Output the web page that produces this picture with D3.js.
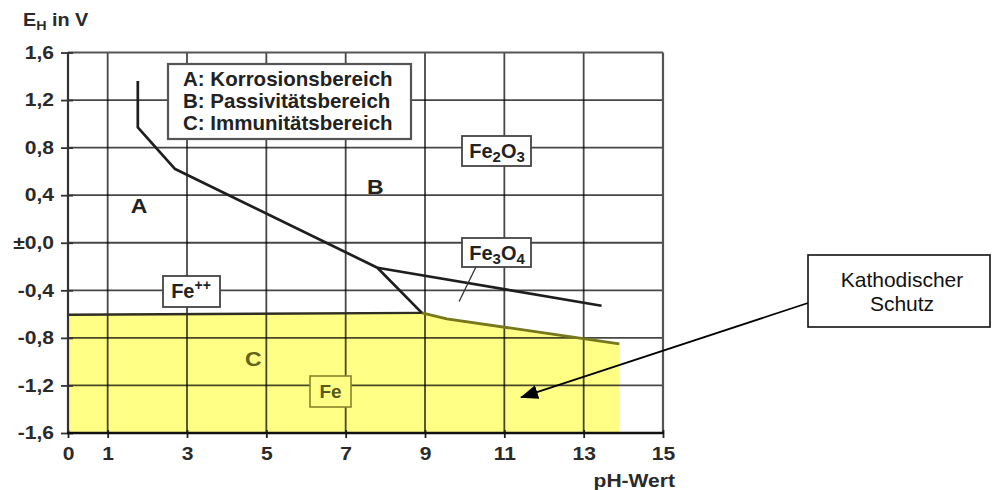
<!DOCTYPE html>
<html>
<head>
<meta charset="utf-8">
<script src="https://cdn.jsdelivr.net/npm/d3@7"></script>
<style>
  html, body { margin: 0; padding: 0; background: #fff; }
  svg { display: block; font-family: "Liberation Sans", Arial, sans-serif; }
</style>
</head>
<body>
<svg id="chart" width="992" height="490"></svg>
<script>
// ---------------- data ----------------
const phTicks = [0, 1, 3, 5, 7, 9, 11, 13, 15];
const phTickLabels = ["0", "1", "3", "5", "7", "9", "11", "13", "15"];
const phGrid = [1, 3, 5, 7, 9, 11, 13];
const ehTicks = [1.6, 1.2, 0.8, 0.4, 0, -0.4, -0.8, -1.2, -1.6];
const ehTickLabels = ["1,6", "1,2", "0,8", "0,4", "±0,0", "-0,4", "-0,8", "-1,2", "-1,6"];
const ehGrid = [1.2, 0.8, 0.4, 0, -0.4, -0.8, -1.2];

// boundary lines [pH, E_H]
const corrosionBoundary = [[1.76, 1.36], [1.76, 0.97], [2.7, 0.62], [7.8, -0.21], [8.92, -0.59]];
const fe3o4Boundary = [[7.8, -0.21], [13.45, -0.53]];
const immunityTopLeft = [[0, -0.606], [8.92, -0.59]];
const immunityTopRight = [[8.92, -0.59], [9.55, -0.64], [13.9, -0.85]];
const immunityArea = [[0, -0.606], [8.92, -0.59], [9.55, -0.64], [13.9, -0.85], [13.9, -1.6], [0, -1.6]];
const fe3o4Leader = [[10.29, -0.2], [9.86, -0.494]];
const arrowTip = [11.42, -1.30];

const legendLines = ["A: Korrosionsbereich", "B: Passivitätsbereich", "C: Immunitätsbereich"];
const regionLabels = [
  { text: "A", ph: 1.79, eh: 0.31 },
  { text: "B", ph: 7.75, eh: 0.47 }
];

// ---------------- setup ----------------
const svg = d3.select("#chart");
const x = d3.scaleLinear().domain([0, 15]).range([68, 663]);
const y = d3.scaleLinear().domain([-1.6, 1.6]).range([433, 52.5]);
const line = d3.line().x(d => x(d[0])).y(d => y(d[1]));

// yellow immunity area (drawn first, grid goes over it semi-transparent)
svg.append("path")
  .attr("d", line(immunityArea) + "Z")
  .attr("fill", "#ffff86");

// grid
const grid = svg.append("g");
grid.selectAll("line.v").data(phGrid).join("line")
  .attr("x1", d => x(d)).attr("x2", d => x(d))
  .attr("y1", y(1.6)).attr("y2", y(-1.6))
  .attr("stroke", "#000").attr("stroke-opacity", 0.72).attr("stroke-width", 1.8);
grid.selectAll("line.h").data(ehGrid).join("line")
  .attr("x1", x(0)).attr("x2", x(15))
  .attr("y1", d => y(d)).attr("y2", d => y(d))
  .attr("stroke", "#000").attr("stroke-opacity", 0.72).attr("stroke-width", 1.8);
// frame top & right
grid.append("line").attr("x1", x(0)).attr("x2", x(15)).attr("y1", y(1.6)).attr("y2", y(1.6))
  .attr("stroke", "#555").attr("stroke-width", 2.2);
grid.append("line").attr("x1", x(15)).attr("x2", x(15)).attr("y1", y(1.6)).attr("y2", y(-1.6))
  .attr("stroke", "#555").attr("stroke-width", 2.2);

// immunity top boundary
svg.append("path").attr("d", line(immunityTopLeft))
  .attr("fill", "none").attr("stroke", "#2e2e22").attr("stroke-width", 2.4);
svg.append("path").attr("d", line(immunityTopRight))
  .attr("fill", "none").attr("stroke", "#77771c").attr("stroke-width", 2.8);

// boundaries
svg.append("path").attr("d", line(corrosionBoundary))
  .attr("fill", "none").attr("stroke", "#1e1e1e").attr("stroke-width", 2.7)
  .attr("stroke-linejoin", "round");
svg.append("path").attr("d", line(fe3o4Boundary))
  .attr("fill", "none").attr("stroke", "#1e1e1e").attr("stroke-width", 2.7);
svg.append("path").attr("d", line(fe3o4Leader))
  .attr("fill", "none").attr("stroke", "#333").attr("stroke-width", 1.3);

// region labels
svg.selectAll("text.region").data(regionLabels).join("text")
  .attr("transform", d => `translate(${x(d.ph)},${y(d.eh) + 7}) scale(1.15,1)`)
  .attr("text-anchor", "middle")
  .attr("font-size", 20).attr("font-weight", "bold").attr("fill", "#222")
  .text(d => d.text);

// C label (olive, inside yellow)
svg.append("text")
  .attr("transform", `translate(${x(4.67)},${y(-0.98) + 7}) scale(1.15,1)`)
  .attr("text-anchor", "middle")
  .attr("font-size", 20).attr("font-weight", "bold").attr("fill", "#62621a")
  .text("C");

// Fe box (olive)
{
  const bx = 310, by = 376, bw = 41, bh = 31;
  svg.append("rect").attr("x", bx).attr("y", by).attr("width", bw).attr("height", bh)
    .attr("fill", "#ffff86").attr("stroke", "#85852c").attr("stroke-width", 1.6);
  svg.append("text").attr("x", bx + bw / 2).attr("y", by + 22)
    .attr("text-anchor", "middle").attr("font-size", 19).attr("font-weight", "bold")
    .attr("fill", "#58581a").text("Fe");
}

// labelled boxes (white)
function box(bx, by, bw, bh) {
  svg.append("rect").attr("x", bx).attr("y", by).attr("width", bw).attr("height", bh)
    .attr("fill", "#fff").attr("stroke", "#444").attr("stroke-width", 1.8);
}
function chem(cx, baseline, parts) {
  const t = svg.append("text").attr("x", cx).attr("y", baseline)
    .attr("text-anchor", "middle").attr("font-weight", "bold").attr("fill", "#222");
  parts.forEach(p => {
    const ts = t.append("tspan").text(p.t).attr("font-size", p.s);
    if (p.dy) ts.attr("dy", p.dy);
  });
}
box(462, 136, 69, 30);
chem(497, 158, [{ t: "Fe", s: 20 }, { t: "2", s: 15, dy: 4 }, { t: "O", s: 20, dy: -4 }, { t: "3", s: 15, dy: 4 }]);
box(462, 238, 69, 29);
chem(497, 260, [{ t: "Fe", s: 20 }, { t: "3", s: 15, dy: 4 }, { t: "O", s: 20, dy: -4 }, { t: "4", s: 15, dy: 4 }]);
box(163, 276, 57, 31);
chem(191, 298, [{ t: "Fe", s: 20 }, { t: "++", s: 14, dy: -8 }]);

// legend
{
  svg.append("rect").attr("x", 168).attr("y", 64).attr("width", 243).attr("height", 75)
    .attr("fill", "#fff").attr("stroke", "#555").attr("stroke-width", 2.2);
  svg.selectAll("text.leg").data(legendLines).join("text")
    .attr("x", 183).attr("y", (d, i) => 86 + i * 22)
    .attr("font-size", 20.5).attr("font-weight", "bold").attr("fill", "#222")
    .text(d => d);
}

// axes
const yAxis = d3.axisLeft(y).tickValues(ehTicks)
  .tickFormat((d, i) => ehTickLabels[i]).tickSizeInner(7).tickSizeOuter(0).tickPadding(5);
const gy = svg.append("g").attr("transform", `translate(${x(0)},0)`).call(yAxis);
gy.select(".domain").remove();
gy.selectAll(".tick line").attr("x1", 5).attr("stroke", "#333").attr("stroke-width", 1.8);
gy.selectAll(".tick text")
  .attr("font-size", 18).attr("font-weight", "bold").attr("fill", "#2a2a2a")
  .attr("font-family", "Liberation Sans, Arial, sans-serif")
  .attr("transform", "scale(1.17,1)");

const xAxis = d3.axisBottom(x).tickValues(phTicks)
  .tickFormat((d, i) => phTickLabels[i]).tickSizeInner(5).tickSizeOuter(0).tickPadding(9);
const gx = svg.append("g").attr("transform", `translate(0,${y(-1.6)})`).call(xAxis);
gx.select(".domain").remove();
gx.selectAll(".tick line").attr("y1", -3).attr("stroke", "#222").attr("stroke-width", 1.8);
gx.selectAll(".tick text")
  .attr("font-size", 18).attr("font-weight", "bold").attr("fill", "#2a2a2a")
  .attr("font-family", "Liberation Sans, Arial, sans-serif")
  .attr("transform", "scale(1.17,1)")
  .attr("x", 0);

// axis lines
svg.append("line").attr("x1", x(0)).attr("x2", x(0)).attr("y1", y(1.6)).attr("y2", y(-1.6))
  .attr("stroke", "#333").attr("stroke-width", 2.2);
svg.append("line").attr("x1", x(0) - 1).attr("x2", x(15) + 1).attr("y1", y(-1.6)).attr("y2", y(-1.6))
  .attr("stroke", "#111").attr("stroke-width", 2.6);

// axis titles
{
  const t = svg.append("text").attr("transform", "translate(23,26) scale(1.1,1)")
    .attr("font-weight", "bold").attr("fill", "#2a2a2a").attr("font-size", 18);
  t.append("tspan").text("E");
  t.append("tspan").text("H").attr("font-size", 13).attr("dy", 4);
  t.append("tspan").text(" in V").attr("dy", -4);
}
svg.append("text").attr("transform", "translate(675,487) scale(1.17,1)")
  .attr("text-anchor", "end").attr("font-size", 18).attr("font-weight", "bold")
  .attr("fill", "#2a2a2a").text("pH-Wert");

// Kathodischer Schutz callout
svg.append("defs").append("marker")
  .attr("id", "arrow").attr("markerUnits", "userSpaceOnUse")
  .attr("markerWidth", 18).attr("markerHeight", 16)
  .attr("viewBox", "0 -8 18 16").attr("refX", 17).attr("refY", 0)
  .attr("orient", "auto")
  .append("path").attr("d", "M0,-7L18,0L0,7Z").attr("fill", "#000");
svg.append("line")
  .attr("x1", 808).attr("y1", 303)
  .attr("x2", x(arrowTip[0])).attr("y2", y(arrowTip[1]))
  .attr("stroke", "#000").attr("stroke-width", 1.8)
  .attr("marker-end", "url(#arrow)");
svg.append("rect").attr("x", 808).attr("y", 255).attr("width", 182).attr("height", 72)
  .attr("fill", "#fff").attr("stroke", "#111").attr("stroke-width", 1.6);
svg.append("text").attr("x", 902).attr("y", 287).attr("text-anchor", "middle")
  .attr("font-size", 21).attr("fill", "#111").text("Kathodischer");
svg.append("text").attr("x", 902).attr("y", 311).attr("text-anchor", "middle")
  .attr("font-size", 21).attr("fill", "#111").text("Schutz");
</script>
</body>
</html>
